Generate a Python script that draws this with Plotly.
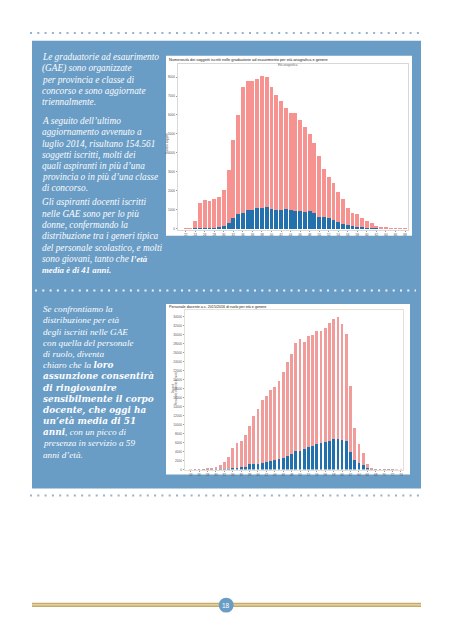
import plotly.graph_objects as go

W, H = 453, 640

# ---------------- data: chart 1 (GAE) ----------------
gae_ages = [22, 23, 24, 25, 26, 27, 28, 29, 30, 31, 32, 33, 34, 35, 36, 37, 38, 39, 40, 41, 42, 43, 44, 45,
            46, 47, 48, 49, 50, 51, 52, 53, 54, 55, 56, 57, 58, 59, 60, 61, 62, 63, 64, 65, 66, 67, 68]
gae_total = [20, 20, 400, 1370, 1530, 1440, 1580, 1650, 2050, 3100, 4700, 6020, 7500, 7800, 7800, 7900,
             8050, 8000, 7460, 7060, 6750, 6350, 6120, 6120, 5760, 5390, 5010, 4540, 3830, 3150, 2730,
             2430, 1910, 1570, 1100, 830, 750, 540, 400, 280, 140, 100, 50, 20, 10, 10, 5]
gae_male = [0, 0, 10, 30, 40, 50, 60, 90, 140, 280, 540, 750, 830, 1000, 970, 1100, 1100, 1160, 1060,
            1010, 970, 1030, 970, 920, 920, 890, 920, 800, 640, 590, 540, 450, 330, 230, 170, 140, 100,
            70, 50, 30, 20, 15, 10, 5, 3, 3, 2]
gae_female = [t - m for t, m in zip(gae_total, gae_male)]
gae_xticks = [22, 24, 26, 28, 30, 32, 34, 36, 38, 40, 42, 44, 46, 48, 50, 52, 54, 56, 58, 60, 62, 64, 66, 68]
gae_yticks = [0, 1000, 2000, 3000, 4000, 5000, 6000, 7000, 8000]

# ---------------- data: chart 2 (docenti di ruolo) ----------------
doc_ages = [24, 25, 26, 27, 28, 29, 30, 31, 32, 33, 34, 35, 36, 37, 38, 39, 40, 41, 42, 43, 44, 45, 46, 47,
            48, 49, 50, 51, 52, 53, 54, 55, 56, 57, 58, 59, 60, 61, 62, 63, 64, 65, 66, 67, 68, 69, 70,
            71, 72, 73, 74]
doc_total = [50, 80, 100, 100, 140, 300, 600, 1000, 1600, 2740, 4800, 5920, 6400, 7700, 9600, 11900,
             13400, 15400, 16400, 17600, 18400, 19800, 21800, 24000, 25800, 28200, 29000, 28400, 29700,
             30000, 30800, 30800, 31600, 32600, 33400, 34000, 32400, 30200, 18600, 9200, 5700, 3700,
             1260, 200, 60, 30, 20, 10, 10, 5, 5]
doc_male = [0, 5, 5, 10, 15, 20, 30, 60, 100, 200, 300, 380, 600, 660, 1120, 1340, 1340, 1480, 1700,
            2000, 2200, 2380, 2660, 3120, 3560, 4080, 4200, 4600, 4960, 5340, 5600, 6000, 6200, 6400,
            6800, 6880, 6660, 6400, 4000, 2080, 1480, 960, 440, 60, 20, 10, 5, 3, 2, 1, 1]
doc_female = [t - m for t, m in zip(doc_total, doc_male)]
doc_xticks = [24, 26, 28, 30, 32, 34, 36, 38, 40, 42, 44, 46, 48, 50, 52, 54, 56, 58, 60, 62, 64, 66,
              68, 70, 72, 74]
doc_yticks = [0, 2000, 4000, 6000, 8000, 10000, 12000, 14000, 16000, 18000, 20000, 22000, 24000,
              26000, 28000, 30000, 32000, 34000]

# ---------------- text ----------------
B1 = '<span style="font-size:8.8px">'
B2 = '<span style="font-family:DejaVu Serif;font-size:8.9px">'
block1 = [
    ("Le graduatorie ad esaurimento", 57),
    ("(GAE) sono organizzate", 68.5),
    ("per provincia e classe di", 80),
    ("concorso e sono aggiornate", 91.5),
    ("triennalmente.", 102.5),
    ("A seguito dell’ultimo", 121),
    ("aggiornamento avvenuto a", 132.5),
    ("luglio 2014, risultano 154.561", 144),
    ("soggetti iscritti, molti dei", 155),
    ("quali aspiranti in più d’una", 166.5),
    ("provincia o in più d’una classe", 178),
    ("di concorso.", 189),
    ("Gli aspiranti docenti iscritti", 203),
    ("nelle GAE sono per lo più", 214.5),
    ("donne, confermando la", 226),
    ("distribuzione tra i generi tipica", 237),
    ("del personale scolastico, e molti", 248.5),
    ("sono giovani, tanto che " + B1 + "<b>l’età</b></span>", 260),
    (B1 + "<b>media è di 41 anni.</b></span>", 271),
]
block2 = [
    ("Se confrontiamo la", 310),
    ("distribuzione per età", 321.3),
    ("degli iscritti nelle GAE", 332.6),
    ("con quella del personale", 343.9),
    ("di ruolo, diventa", 355.2),
    ("chiaro che la " + B2 + "<b>loro</b></span>", 366.3),
    (B2 + "<b>assunzione consentirà</b></span>", 377.5),
    (B2 + "<b>di ringiovanire</b></span>", 388.8),
    (B2 + "<b>sensibilmente il corpo</b></span>", 400),
    (B2 + "<b>docente, che oggi ha</b></span>", 411.2),
    (B2 + "<b>un’età media di 51</b></span>", 422.4),
    (B2 + "<b>anni</b></span>, con un picco di", 433.6),
    ("presenza in servizio a 59", 444.8),
    ("anni d’età.", 456),
]

BLUE_BOX = "#6A9DC5"
PINK1 = "#F6928F"
PINK2 = "#F09C9A"
BLUE_BAR = "#2271AC"
TEXT_FONT = "Liberation Serif"


def px(x):
    return x / W


def py(y):
    return 1 - y / H


fig = go.Figure()

fig.add_trace(go.Bar(x=gae_ages, y=gae_male, marker_color=BLUE_BAR, marker_line_width=0,
                     xaxis="x", yaxis="y", name="M"))
fig.add_trace(go.Bar(x=gae_ages, y=gae_female, marker_color=PINK1, marker_line_width=0,
                     xaxis="x", yaxis="y", name="F"))
fig.add_trace(go.Bar(x=doc_ages, y=doc_male, marker_color=BLUE_BAR, marker_line_width=0,
                     xaxis="x2", yaxis="y2", name="M"))
fig.add_trace(go.Bar(x=doc_ages, y=doc_female, marker_color=PINK2, marker_line_width=0,
                     xaxis="x2", yaxis="y2", name="F"))

shapes = []
# blue panel
shapes.append(dict(type="rect", xref="paper", yref="paper", x0=px(32), x1=px(421), y0=py(490), y1=py(41),
                   fillcolor=BLUE_BOX, line_width=0, layer="below"))
# white chart backgrounds
shapes.append(dict(type="rect", xref="paper", yref="paper", x0=px(166), x1=px(412), y0=py(236.5), y1=py(56),
                   fillcolor="white", line_width=0, layer="below"))
shapes.append(dict(type="rect", xref="paper", yref="paper", x0=px(166), x1=px(410), y0=py(476), y1=py(305),
                   fillcolor="white", line_width=0, layer="below"))
# dotted rules
for yy, col, x0, x1 in [(33, "#94B3D1", 30, 422), (497, "#94B3D1", 30, 422), (291.5, "#EAF1F8", 35, 416)]:
    shapes.append(dict(type="line", xref="paper", yref="paper", x0=px(x0), x1=px(x1), y0=py(yy), y1=py(yy),
                       line=dict(color=col, width=2, dash="2px,5.3px")))
# gold footer rule
shapes.append(dict(type="rect", xref="paper", yref="paper", x0=px(32), x1=px(421), y0=py(609), y1=py(604.6),
                   fillcolor="#C6AC66", line_width=0))
shapes.append(dict(type="line", xref="paper", yref="paper", x0=px(32), x1=px(421), y0=py(606.8), y1=py(606.8),
                   line=dict(color="#F1E6C2", width=1)))
# page number circle
shapes.append(dict(type="circle", xref="paper", yref="paper", x0=px(218.7), x1=px(233.7), y0=py(614.5),
                   y1=py(599.5), fillcolor="#6A9DC5", line_width=0))

ann = []


def add_text(x, y, text, size, color="white", family=TEXT_FONT, xanchor="left", textangle=0, style="normal"):
    ann.append(dict(xref="paper", yref="paper", x=px(x), y=py(y), text=text, showarrow=False,
                    xanchor=xanchor, yanchor="middle", textangle=textangle,
                    font=dict(family=family, size=size, color=color, style=style)))


for t, yy in block1:
    add_text(40, yy, "<i>" + t + "</i>", 9.3, color="#FBFCFE", style="italic")
for t, yy in block2:
    add_text(40.5, yy, "<i>" + t + "</i>", 9.2, color="#FBFCFE", style="italic")

# chart titles
add_text(167, 59.5, "Numerosità dei soggetti iscritti nelle graduatorie ad esaurimento per età anagrafica e genere",
         3.9, color="#222", family="Liberation Sans")
add_text(288, 65.5, "Età anagrafica", 3, color="#666", family="Liberation Sans", xanchor="center")
add_text(166.5, 144, "Numero soggetti", 2.8, color="#555", family="Liberation Sans", xanchor="center",
         textangle=-90)
add_text(167, 308, "Personale docente a.s. 2015/2016 di ruolo per età e genere", 3.7, color="#222",
         family="Liberation Sans")
add_text(172.5, 390, "Docenti", 2.8, color="#666", family="Liberation Sans", xanchor="center", textangle=-90)
add_text(175.5, 390, "Personale docente di ruolo", 2.8, color="#666", family="Liberation Sans",
         xanchor="center", textangle=-90)
add_text(226.2, 607, "18", 6.5, color="white", family="Liberation Sans", xanchor="center")

tickfont = dict(family="Liberation Sans", size=3.1, color="#555")

fig.update_layout(
    width=W, height=H, margin=dict(l=0, r=0, t=0, b=0),
    paper_bgcolor="white", plot_bgcolor="white",
    showlegend=False, barmode="stack",
    shapes=shapes, annotations=ann,
    xaxis=dict(domain=[px(178), px(408)], anchor="y", range=[20.4, 68.63], tickmode="array",
               tickvals=gae_xticks, ticktext=[str(v) for v in gae_xticks], tickfont=tickfont,
               showgrid=False, zeroline=False, showline=True, mirror=True, linecolor="#D8D8D8",
               linewidth=1, ticks="outside", ticklen=1.5, tickcolor="#999", tickwidth=0.5),
    yaxis=dict(domain=[py(230.5), py(64)], anchor="x", range=[-60, 8700], tickmode="array",
               tickvals=gae_yticks, ticktext=[str(v) for v in gae_yticks], tickfont=tickfont,
               showgrid=False, zeroline=False, showline=True, mirror=True, linecolor="#D8D8D8",
               linewidth=1, ticks="outside", ticklen=1.5, tickcolor="#999", tickwidth=0.5),
    xaxis2=dict(domain=[px(185), px(403)], anchor="y2", range=[22.65, 74.48], tickmode="array",
                tickvals=doc_xticks, ticktext=[str(v) for v in doc_xticks], tickfont=tickfont,
                showgrid=False, zeroline=False, showline=True, mirror=True, linecolor="#E4E0D4",
                linewidth=1, ticks="outside", ticklen=1.5, tickcolor="#999", tickwidth=0.5),
    yaxis2=dict(domain=[py(471), py(311)], anchor="x2", range=[0, 35500], tickmode="array",
                tickvals=doc_yticks, ticktext=[str(v) for v in doc_yticks], tickfont=tickfont,
                showgrid=False, zeroline=False, showline=True, mirror=True, linecolor="#E4E0D4",
                linewidth=1, ticks="outside", ticklen=1.5, tickcolor="#999", tickwidth=0.5),
    bargap=0.18,
)
fig.update_traces(selector=dict(xaxis="x2"), width=0.66)

fig.write_html("out.html", config={"displayModeBar": False},
               post_script="document.body.style.margin='0px';document.body.style.padding='0px';")
